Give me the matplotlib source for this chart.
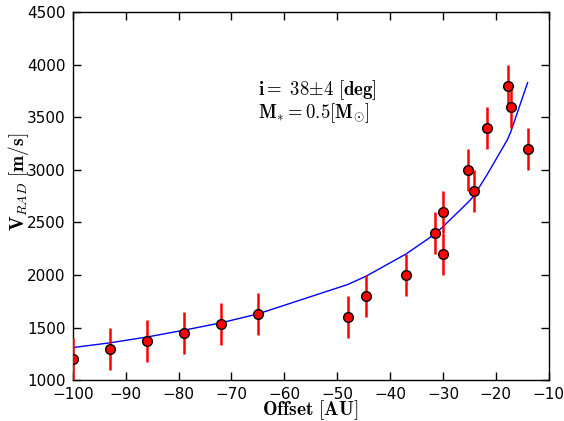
import numpy as np
import matplotlib
matplotlib.use("Agg")
import matplotlib.pyplot as plt

plt.rcParams['mathtext.fontset'] = 'cm'

# observed offsets and radial velocities
offset = [-100, -93, -86, -79, -72, -65, -48, -44.5, -37, -31.5, -30, -30,
          -25.3, -24.2, -21.6, -17.8, -17.2, -14]
vrad = [1200, 1300, 1375, 1450, 1530, 1630, 1600, 1800, 2000, 2400, 2600, 2200,
        3000, 2800, 3400, 3800, 3600, 3200]
verr = [200] * len(offset)

# keplerian model
model_x = [-100, -93, -86, -79, -72, -65, -48, -44.5, -37, -31.5, -30,
           -25.3, -24.2, -21.6, -17.8, -17.2, -14]
model_v = [1310, 1355, 1410, 1475, 1545, 1630, 1910, 1990, 2200, 2390, 2460,
           2690, 2750, 2960, 3290, 3360, 3830]

fig = plt.figure(figsize=(5.64, 4.21), dpi=100)
ax = fig.add_axes([0.129, 0.097, 0.844, 0.874])

ax.plot(model_x, model_v, color='blue', lw=1, zorder=2)
ax.errorbar(offset, vrad, yerr=verr, fmt='none', ecolor='red', elinewidth=1.8,
            capsize=0, zorder=3)
ax.plot(offset, vrad, 'o', mfc='red', mec='black', mew=1, ms=7, zorder=4)

ax.set_xlim(-100, -10)
ax.set_ylim(1000, 4500)
ax.set_xticks(np.arange(-100, -9, 10))
ax.set_yticks(np.arange(1000, 4501, 500))
ax.tick_params(direction='in', top=True, right=True, length=6, width=1,
               labelsize=11, pad=5)
for s in ax.spines.values():
    s.set_linewidth(1)

ax.set_xlabel(r'$\mathbf{Offset\ [AU]}$', fontsize=14, va='center')
ax.xaxis.set_label_coords(0.5, -0.081)
ax.set_ylabel(r'$\mathbf{V}_{RAD}\ \mathbf{[m/s]}$', fontsize=14, va='center')
ax.yaxis.set_label_coords(-0.113, 0.54)

ax.text(-65, 3755, r'$\mathbf{i{=}\ 38{\pm}4\ [deg]}$', fontsize=13.5, va='center')
ax.text(-65, 3540, r'$\mathbf{M_{*}{=}0.5[M_{\odot}]}$', fontsize=13.5, va='center')

fig.savefig('out.png', dpi=100, facecolor='white')
